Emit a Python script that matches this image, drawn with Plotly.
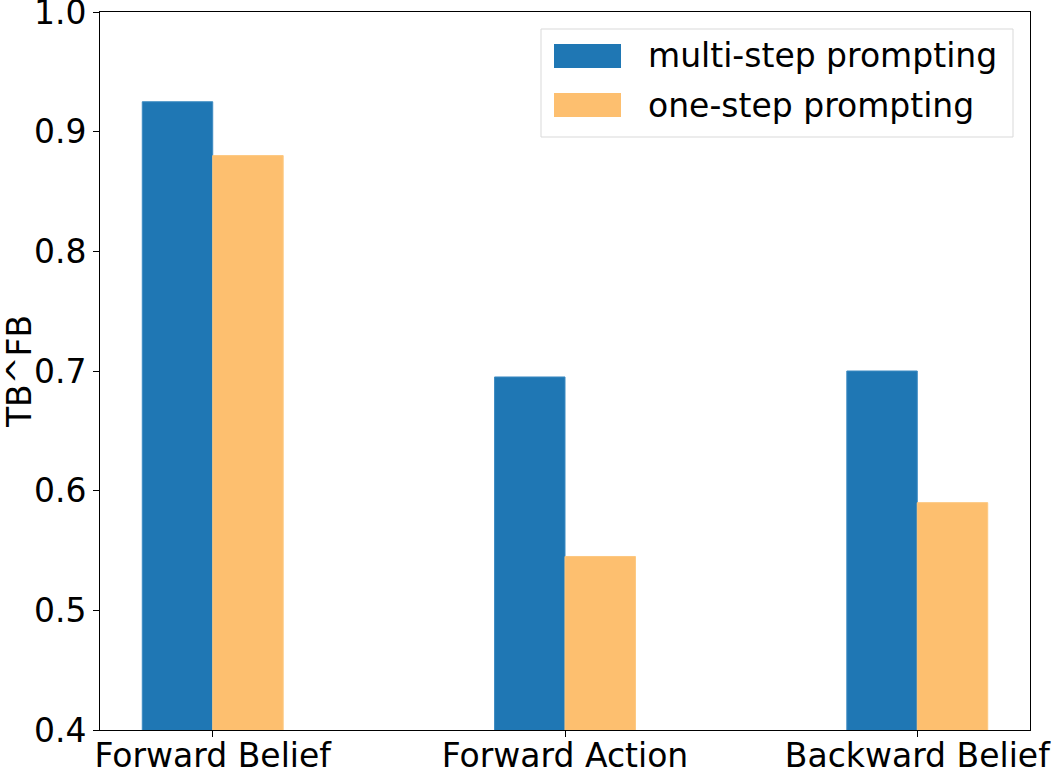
import plotly.graph_objects as go

categories = ['Forward Belief', 'Forward Action', 'Backward Belief']
multi_step = [0.925, 0.695, 0.70]
one_step = [0.88, 0.545, 0.59]
positions = [0, 1, 2]
series_names = ['multi-step prompting', 'one-step prompting']
series_colors = ['#1f77b4', '#fdbf6f']
y_ticks = [0.4, 0.5, 0.6, 0.7, 0.8, 0.9, 1.0]

font_family = 'DejaVu Sans, Arial, sans-serif'
fs = 33

trace1 = go.Bar(x=positions, y=multi_step, name=series_names[0],
                width=0.2, offset=-0.2,
                marker=dict(color=series_colors[0], line=dict(color='#3d8bc2', width=1)))
trace2 = go.Bar(x=positions, y=one_step, name=series_names[1],
                width=0.2, offset=0,
                marker=dict(color=series_colors[1], line=dict(color='#fdc880', width=1)))

W, H = 1053, 767
ML, MR, MT, MB = 100, 23, 12, 37
PW, PH = W - ML - MR, H - MT - MB


def px(x):  # pixel column -> paper x (plot area based)
    return (x - ML) / PW


def py(y):  # pixel row -> paper y
    return (H - MB - y) / PH


# matplotlib-like legend box drawn by hand (big colour patches)
shapes = [dict(type='rect', xref='paper', yref='paper',
               x0=px(541), x1=px(1013), y0=py(137), y1=py(29),
               fillcolor='white', line=dict(color='#d9d9d9', width=1), layer='above')]
annotations = []
for i, (name, col) in enumerate(zip(series_names, series_colors)):
    yc = 56 + i * 49
    shapes.append(dict(type='rect', xref='paper', yref='paper',
                       x0=px(554), x1=px(621), y0=py(yc + 12), y1=py(yc - 12),
                       fillcolor=col, line=dict(width=0), layer='above'))
    annotations.append(dict(xref='paper', yref='paper', x=px(646), y=py(yc),
                            xanchor='left', yanchor='middle', text=name, showarrow=False,
                            font=dict(size=fs, color='black')))

layout = go.Layout(
    width=W, height=H,
    margin=dict(l=ML, r=MR, t=MT, b=MB),
    plot_bgcolor='white', paper_bgcolor='white',
    font=dict(family=font_family, size=fs, color='black'),
    showlegend=False,
    shapes=shapes, annotations=annotations,
    xaxis=dict(range=[-0.32, 2.32], tickvals=positions, ticktext=categories,
               showgrid=False, zeroline=False, showline=True, mirror=True,
               linecolor='black', linewidth=1, ticks='outside', ticklen=6,
               tickcolor='black', tickfont=dict(size=fs), automargin=False,
               ticklabelstandoff=-10, ticklabeloverflow='allow'),
    yaxis=dict(range=[0.4, 1.0], tickvals=y_ticks,
               ticktext=['%.1f' % v for v in y_ticks],
               showgrid=False, zeroline=False, showline=True, mirror=True,
               linecolor='black', linewidth=1, ticks='outside', ticklen=6,
               tickcolor='black', tickfont=dict(size=fs), automargin=False,
               ticklabeloverflow='allow',
               title=dict(text='TB^FB', font=dict(size=fs), standoff=4)),
)

fig = go.Figure(data=[trace1, trace2], layout=layout)
fig.write_html('out.html', config={'displayModeBar': False},
               post_script="document.body.style.margin='0';")
